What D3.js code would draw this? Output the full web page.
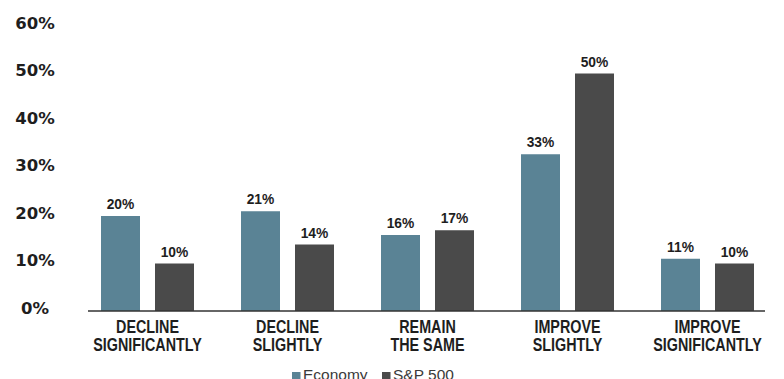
<!DOCTYPE html>
<html>
<head>
<meta charset="utf-8">
<script src="https://cdn.jsdelivr.net/npm/d3@7/dist/d3.min.js"></script>
<style>
  html, body { margin: 0; padding: 0; background: #ffffff; }
  svg { display: block; }
</style>
</head>
<body>
<svg id="chart" width="784" height="379"></svg>
<script>
// Survey outlook categories and responses (percent)
const categories = [
  ["DECLINE", "SIGNIFICANTLY"],
  ["DECLINE", "SLIGHTLY"],
  ["REMAIN", "THE SAME"],
  ["IMPROVE", "SLIGHTLY"],
  ["IMPROVE", "SIGNIFICANTLY"]
];
const seriesNames = ["Economy", "S&P 500"];
const economy = [20, 21, 16, 33, 11];
const sp500 = [10, 14, 17, 50, 10];
const yTicks = [0, 10, 20, 30, 40, 50, 60];
const colors = ["#5a8395", "#4a4a4a"];

const svg = d3.select("#chart");
const baseY = 311;

const y = d3.scaleLinear().domain([0, 60]).range([baseY, baseY - 285]);

const keys = categories.map(c => c.join(" "));
const x0 = d3.scaleBand().domain(keys).range([77.5, 777.5]);
const x1 = d3.scaleBand().domain(seriesNames).range([23.5, 116.5])
  .paddingInner(15 / 54).paddingOuter(0);

const rows = keys.map((k, i) => ({ key: k, values: [economy[i], sp500[i]] }));

// Y axis labels (no axis line)
const yAxis = d3.axisLeft(y).tickValues(yTicks).tickFormat(d => d + "%").tickSize(0);
const yG = svg.append("g").attr("transform", "translate(35,-3)").call(yAxis);
yG.select(".domain").remove();
yG.selectAll("text")
  .attr("x", 0)
  .attr("text-anchor", "middle")
  .attr("fill", "#1e1e1e")
  .style("font-family", "'DejaVu Sans', sans-serif")
  .style("font-weight", "bold")
  .style("font-size", "16.5px");

// Bars
const groups = svg.append("g").selectAll("g").data(rows).join("g")
  .attr("transform", d => `translate(${x0(d.key)},0)`);

groups.selectAll("rect")
  .data(d => d.values.map((v, j) => ({ name: seriesNames[j], value: v, j })))
  .join("rect")
  .attr("x", d => x1(d.name))
  .attr("width", x1.bandwidth())
  .attr("y", d => y(d.value))
  .attr("height", d => baseY - y(d.value))
  .attr("fill", d => colors[d.j]);

// Value labels above bars (slightly condensed)
groups.selectAll("text.val")
  .data(d => d.values.map((v, j) => ({ name: seriesNames[j], value: v })))
  .join("text")
  .attr("class", "val")
  .attr("transform", d => `translate(${x1(d.name) + x1.bandwidth() / 2},${y(d.value) - 7}) scale(0.92,1)`)
  .attr("text-anchor", "middle")
  .attr("fill", "#1e1e1e")
  .style("font-family", "'Liberation Sans', Arial, sans-serif")
  .style("font-weight", "bold")
  .style("font-size", "15px")
  .text(d => d.value + "%");

// Baseline
svg.append("line")
  .attr("x1", 88).attr("x2", 765)
  .attr("y1", baseY).attr("y2", baseY)
  .attr("stroke", "#333")
  .attr("stroke-width", 1.5);

// Category labels (two lines, condensed)
const xAxis = d3.axisBottom(x0).tickSize(0).tickFormat("");
const xG = svg.append("g").attr("transform", `translate(0,${baseY})`).call(xAxis);
xG.select(".domain").remove();
xG.selectAll(".tick").each(function (d, i) {
  const t = d3.select(this).append("text")
    .attr("transform", "scale(0.82,1)")
    .attr("text-anchor", "middle")
    .attr("fill", "#1e1e1e")
    .style("font-family", "'Liberation Sans', Arial, sans-serif")
    .style("font-weight", "bold")
    .style("font-size", "17.5px");
  categories[i].forEach((line, k) => {
    t.append("tspan").attr("x", 0).attr("y", 22 + k * 18).text(line);
  });
});

// Legend
const legend = svg.append("g").attr("transform", "translate(292,0)");
const legendX = [0, 90];
seriesNames.forEach((name, i) => {
  const g = legend.append("g").attr("transform", `translate(${legendX[i]},0)`);
  g.append("rect").attr("x", 0).attr("y", 372).attr("width", 8.5).attr("height", 9)
    .attr("fill", colors[i]);
  g.append("text").attr("x", 11).attr("y", 380)
    .attr("fill", "#3a3a3a")
    .style("font-family", "'Liberation Sans', Arial, sans-serif")
    .style("font-size", "15.5px")
    .text(name);
});
</script>
</body>
</html>
